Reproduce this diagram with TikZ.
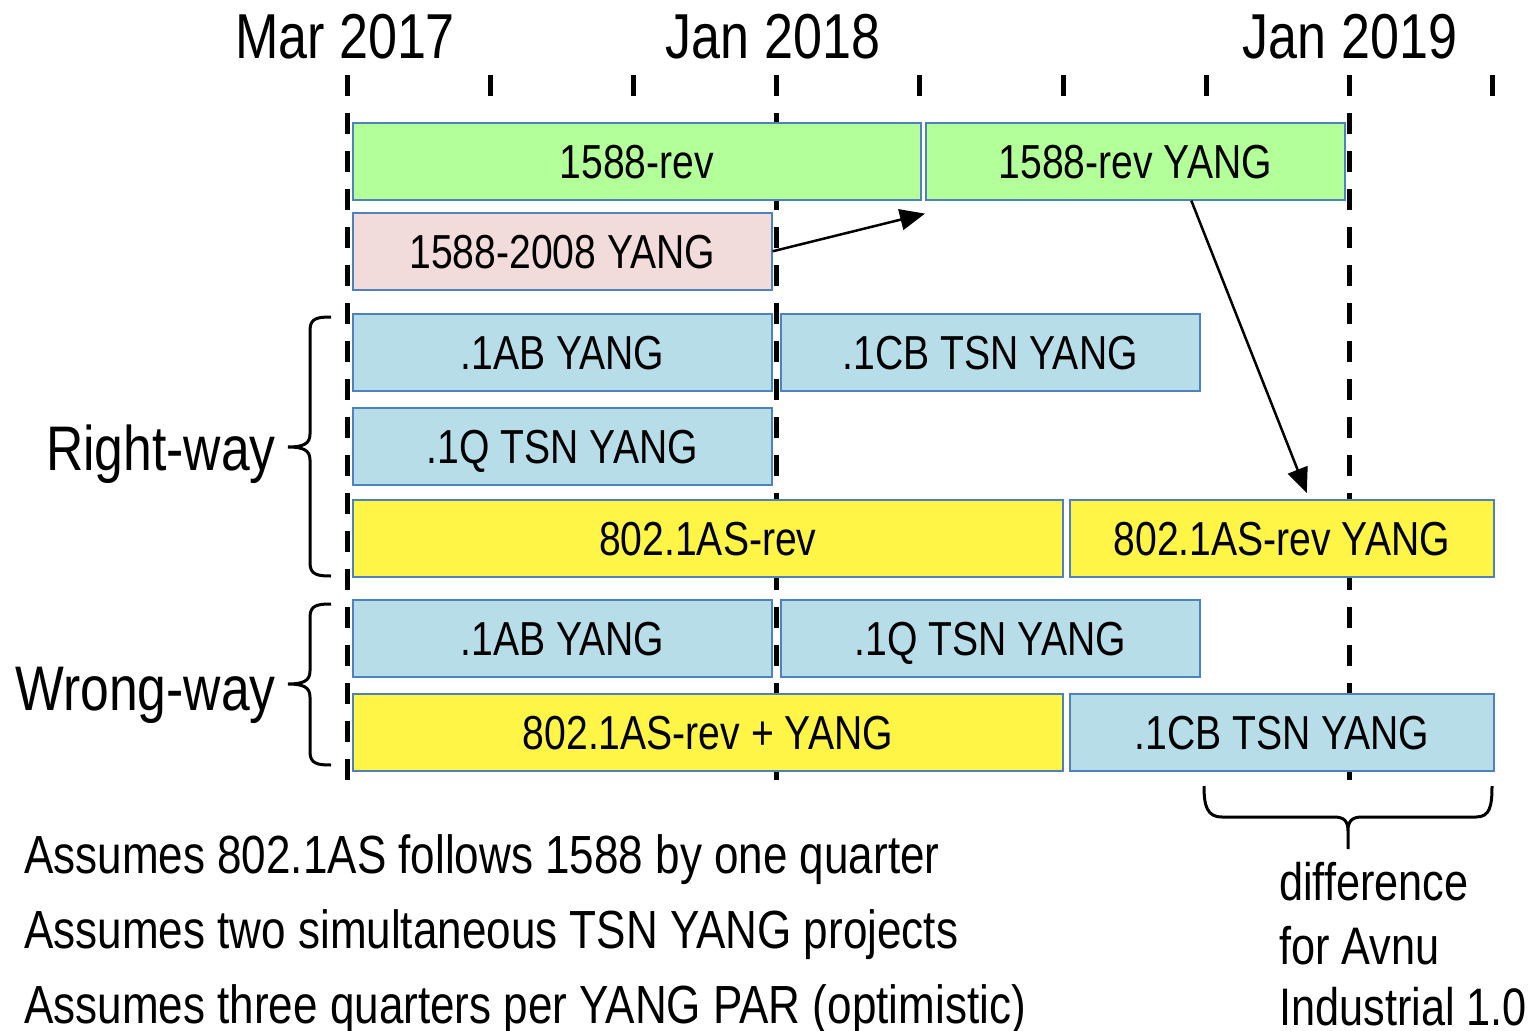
\documentclass[tikz,border=0pt]{standalone}
\usepackage{fontspec}
\setmainfont[FakeStretch=0.82]{Liberation Sans}
\usetikzlibrary{arrows.meta,calc}
\definecolor{cgreen}{HTML}{B3FF99}
\definecolor{cpink}{HTML}{F2DCDB}
\definecolor{cblue}{HTML}{B7DEE8}
\definecolor{cyellow}{HTML}{FFF546}
\definecolor{cedge}{HTML}{4F81BD}
\begin{document}
\begin{tikzpicture}[x=1pt,y=-1pt,
  bar/.style={draw=cedge, line width=1.6pt, minimum height=77pt, inner sep=0pt,
    anchor=north west, text height=34pt, text depth=0pt,
    font=\fontsize{47.7}{50}\selectfont},
  gbar/.style={bar, fill=cgreen},
  pbar/.style={bar, fill=cpink},
  bbar/.style={bar, fill=cblue},
  ybar/.style={bar, fill=cyellow},
  timeline/.style={line width=5pt, dash pattern=on 21pt off 17pt},
  tick/.style={line width=5pt},
  hdr/.style={anchor=base, inner sep=0pt, font=\fontsize{63.5}{70}\selectfont},
  side/.style={anchor=base east, inner sep=0pt, font=\fontsize{63}{70}\selectfont},
  note/.style={anchor=base west, inner sep=0pt, font=\fontsize{53.7}{60}\selectfont},
  diff/.style={anchor=base west, inner sep=0pt, font=\fontsize{52.8}{60}\selectfont},
  brc/.style={line width=3pt},
  arr/.style={line width=2.5pt, -{Triangle[length=25pt,width=21pt]}}
]
\fill[white] (0,0) rectangle (1532,1031);
\useasboundingbox (0,0) rectangle (1532,1031);

% time axis
\draw[timeline] (347,75) -- (347,782);
\draw[timeline] (776,75) -- (776,782);
\draw[timeline] (1349,75) -- (1349,782);
\foreach \x in {490,633,919,1063,1206,1492}
  \draw[tick] (\x,75) -- (\x,96);

\node[hdr] (m17) at (345,58) {Mar 2017};
\node[hdr] (j18) at (773,58) {Jan 2018};
\node[hdr] (j19) at (1350,58) {Jan 2019};

% bars
\node[gbar, minimum width=568pt] (r1a) at (352,122) {1588-rev};
\node[gbar, minimum width=419pt] (r1b) at (925,122) {1588-rev YANG};
\node[pbar, minimum width=419pt] (r2)  at (352,212) {1588-2008 YANG};
\node[bbar, minimum width=419pt] (r3a) at (352,313) {.1AB YANG};
\node[bbar, minimum width=419pt] (r3b) at (780,313) {.1CB TSN YANG};
\node[bbar, minimum width=419pt] (r4)  at (352,407) {.1Q TSN YANG};
\node[ybar, minimum width=710pt] (r5a) at (352,499) {802.1AS-rev};
\node[ybar, minimum width=424pt] (r5b) at (1069,499) {802.1AS-rev YANG};
\node[bbar, minimum width=419pt] (r6a) at (352,599) {.1AB YANG};
\node[bbar, minimum width=419pt] (r6b) at (780,599) {.1Q TSN YANG};
\node[ybar, minimum width=710pt] (r7a) at (352,693) {802.1AS-rev + YANG};
\node[bbar, minimum width=424pt] (r7b) at (1069,693) {.1CB TSN YANG};

% arrows
\draw[arr] (r2.east) -- ($(r1b.south west)+(0,13)$);
\draw[arr] ($(r1b.south)+(56,0)$) -- ($(r5b.north)+(25,-6)$);

% side braces and labels
\draw[brc] (331,317) .. controls (318,317) and (310,318) .. (310,330) -- (310,434)
  .. controls (310,444) and (303,447) .. (288,447)
  .. controls (303,447) and (310,450) .. (310,460) -- (310,563)
  .. controls (310,575) and (318,576) .. (331,576);
\draw[brc] (331,604) .. controls (318,604) and (310,605) .. (310,617) -- (310,671)
  .. controls (310,681) and (303,684) .. (288,684)
  .. controls (303,684) and (310,687) .. (310,697) -- (310,752)
  .. controls (310,764) and (318,765) .. (331,765);
\node[side] (rw) at (276,470) {Right-way};
\node[side] (ww) at (276,710) {Wrong-way};

% bottom brace
\draw[brc] (1204,786) .. controls (1204,806) and (1207,817) .. (1222,817) -- (1334,817)
  .. controls (1344,817) and (1348,821) .. (1348,831) -- (1348,849)
  (1348,831) .. controls (1348,821) and (1352,817) .. (1362,817) -- (1476,817)
  .. controls (1490,817) and (1492,806) .. (1492,786);
\node[diff] (d1) at (1279,900) {difference};
\node[diff] (d2) at (1279,964) {for Avnu};
\node[diff] (d3) at (1279,1025) {Industrial 1.0};

% notes
\node[note] (n1) at (24,873) {Assumes 802.1AS follows 1588 by one quarter};
\node[note] (n2) at (24,948) {Assumes two simultaneous TSN YANG projects};
\node[note] (n3) at (24,1023) {Assumes three quarters per YANG PAR (optimistic)};
\end{tikzpicture}
\end{document}
